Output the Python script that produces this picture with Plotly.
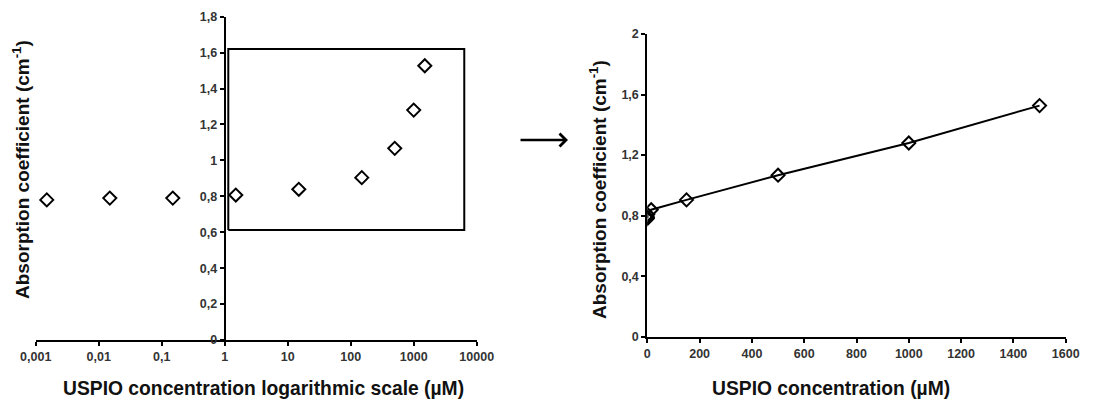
import plotly.graph_objects as go

# ---- data ----
conc = [0.0015, 0.015, 0.15, 1.5, 15, 150, 500, 1000, 1500]
absorb = [0.78, 0.79, 0.79, 0.807, 0.839, 0.904, 1.067, 1.28, 1.527]

box_x = [1.14, 6350, 6350, 1.14, 1.14]
box_y = [0.612, 0.612, 1.62, 1.62, 0.612]

log_tickvals = [0.001, 0.01, 0.1, 1, 10, 100, 1000, 10000]
log_ticktext = ["0,001", "0,01", "0,1", "1", "10", "100", "1000", "10000"]
left_y_tickvals = [0, 0.2, 0.4, 0.6, 0.8, 1.0, 1.2, 1.4, 1.6, 1.8]
left_y_ticktext = ["0", "0,2", "0,4", "0,6", "0,8", "1", "1,2", "1,4", "1,6", "1,8"]
lin_tickvals = [0, 200, 400, 600, 800, 1000, 1200, 1400, 1600]
lin_ticktext = ["0", "200", "400", "600", "800", "1000", "1200", "1400", "1600"]
right_y_tickvals = [0, 0.4, 0.8, 1.2, 1.6, 2.0]
right_y_ticktext = ["0", "0,4", "0,8", "1,2", "1,6", "2"]

OFF = 8  # default page body margin
W, H = 1116 - OFF, 399 - OFF
FONT = "Liberation Sans, Arial, sans-serif"

def px_x(p):
    return (p - OFF) / W

def px_y(p):
    return (H - (p - OFF)) / H

fig = go.Figure()

marker = dict(symbol="diamond-open", size=10, color="black", line=dict(width=2, color="black"))

fig.add_trace(go.Scatter(x=box_x, y=box_y, mode="lines", line=dict(color="black", width=2),
                         xaxis="x", yaxis="y", hoverinfo="skip", showlegend=False))
fig.add_trace(go.Scatter(x=conc, y=absorb, mode="markers", marker=marker,
                         xaxis="x", yaxis="y", showlegend=False))
fig.add_trace(go.Scatter(x=conc, y=absorb, mode="lines+markers", marker=marker,
                         line=dict(color="black", width=2),
                         xaxis="x2", yaxis="y2", showlegend=False))

lx0, lx1 = 35.7, 476.7
ly_bot, ly_top = 340, 16.7
rx0, rx1 = 647.3, 1065.7
ry_bot, ry_top = 336.7, 34

axis_common = dict(showgrid=False, zeroline=False, showline=True, linecolor="black", linewidth=2,
                   ticks="outside", ticklen=4, tickwidth=1.5, tickcolor="black", automargin=False,
                   tickfont=dict(family=FONT, size=12.5, color="#333333", weight="bold"),
                   fixedrange=True)

fig.update_layout(
    width=W, height=H,
    margin=dict(l=0, r=0, t=0, b=0, autoexpand=False),
    paper_bgcolor="white", plot_bgcolor="rgba(0,0,0,0)",
    xaxis=dict(axis_common, type="log", range=[-3, 4],
               domain=[px_x(lx0), px_x(lx1)], anchor="y",
               tickmode="array", tickvals=log_tickvals, ticktext=log_ticktext),
    yaxis=dict(axis_common, range=[0, 1.8],
               domain=[px_y(ly_bot), px_y(ly_top)], anchor="free",
               position=px_x(lx0 + (lx1 - lx0) * 3 / 7),
               tickmode="array", tickvals=left_y_tickvals, ticktext=left_y_ticktext),
    xaxis2=dict(axis_common, range=[0, 1600],
                domain=[px_x(rx0), px_x(rx1)], anchor="y2",
                tickmode="array", tickvals=lin_tickvals, ticktext=lin_ticktext),
    yaxis2=dict(axis_common, range=[0, 2],
                domain=[px_y(ry_bot), px_y(ry_top)], anchor="x2",
                tickmode="array", tickvals=right_y_tickvals, ticktext=right_y_ticktext),
)

title_font = dict(family=FONT, size=19.3, color="#111111")
fig.add_annotation(x=px_x(263), y=px_y(388), xref="paper", yref="paper",
                   text="<b>USPIO concentration logarithmic scale (µM)</b>",
                   showarrow=False, font=title_font, xanchor="center", yanchor="middle")
fig.add_annotation(x=px_x(831), y=px_y(388), xref="paper", yref="paper",
                   text="<b>USPIO concentration (µM)</b>",
                   showarrow=False, font=title_font, xanchor="center", yanchor="middle")
fig.add_annotation(x=px_x(21), y=px_y(170), xref="paper", yref="paper",
                   text="<b>Absorption coefficient (cm<sup>-1</sup>)</b>", textangle=-90,
                   showarrow=False, font=dict(title_font, size=19), xanchor="center", yanchor="middle")
fig.add_annotation(x=px_x(598), y=px_y(190), xref="paper", yref="paper",
                   text="<b>Absorption coefficient (cm<sup>-1</sup>)</b>", textangle=-90,
                   showarrow=False, font=dict(title_font, size=19), xanchor="center", yanchor="middle")

# arrow between panels
fig.add_annotation(x=px_x(568), y=px_y(140), xref="paper", yref="paper",
                   ax=-49, ay=0, axref="pixel", ayref="pixel", text="",
                   showarrow=True, arrowhead=4, arrowsize=1, arrowwidth=2.5, arrowcolor="black")

fig.write_html("out.html")
